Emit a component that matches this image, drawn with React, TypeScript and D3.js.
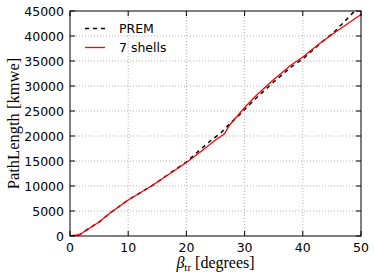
import React from "react";
import * as d3 from "d3";

const xTicks = [0, 10, 20, 30, 40, 50];
const yTicks = [0, 5000, 10000, 15000, 20000, 25000, 30000, 35000, 40000, 45000];

const shellsX = [0, 1, 1.7, 3, 5, 7, 10, 14, 20, 22.5, 25, 26.5, 27.5, 30, 32, 35, 38, 40, 43, 45, 48, 50];
const shellsY = [0, 150, 300, 1300, 2800, 4700, 7200, 10000, 14700, 16900, 19200, 20400, 22300, 25700, 28100, 31300, 34200, 35800, 38600, 40300, 42700, 44300];

const premX = [0, 1, 1.7, 3, 5, 7, 10, 14, 20, 22, 24, 26, 27.5, 29, 30, 32, 35, 38, 40, 43, 45, 46, 48, 50];
const premY = [0, 150, 300, 1300, 2800, 4700, 7200, 10000, 14800, 16900, 18900, 20700, 22500, 24100, 25300, 27600, 30800, 33800, 35400, 38500, 40400, 41500, 43900, 46300];

const W = 374, H = 278;
const m = { left: 70, right: 13, top: 11, bottom: 42 };

export default function App() {
  const x = d3.scaleLinear().domain([0, 50]).range([m.left, W - m.right]);
  const y = d3.scaleLinear().domain([0, 45000]).range([H - m.bottom, m.top]);
  const mk = (xs: number[], ys: number[]) =>
    d3.line<number>().x((_, i) => x(xs[i])).y((_, i) => y(ys[i]))(xs) || "";
  const tickFont = { fontFamily: "DejaVu Sans", fontSize: 12.5, fill: "#000" };
  const x0 = x(0), x1 = x(50), y0 = y(0), y1 = y(45000);
  return (
    <svg width={W} height={H} style={{ position: "absolute", left: 0, top: 0, background: "#fff" }}>
      <defs>
        <clipPath id="plotclip">
          <rect x={x0} y={y1} width={x1 - x0} height={y0 - y1} />
        </clipPath>
      </defs>
      {xTicks.slice(1, -1).map((t) => (
        <line key={"gx" + t} x1={x(t)} x2={x(t)} y1={y1} y2={y0} stroke="#b0b0b0" strokeWidth={1} strokeDasharray="1,2" />
      ))}
      {yTicks.slice(1, -1).map((t) => (
        <line key={"gy" + t} x1={x0} x2={x1} y1={y(t)} y2={y(t)} stroke="#b0b0b0" strokeWidth={1} strokeDasharray="1,2" />
      ))}
      <g clipPath="url(#plotclip)">
        <path d={mk(premX, premY)} fill="none" stroke="#000" strokeWidth={1.5} strokeDasharray="4,4" />
        <path d={mk(shellsX, shellsY)} fill="none" stroke="#ff0000" strokeWidth={1.3} />
      </g>
      {xTicks.map((t) => (
        <g key={"tx" + t}>
          <line x1={x(t)} x2={x(t)} y1={y0} y2={y0 - 5} stroke="#000" strokeWidth={1} />
          <line x1={x(t)} x2={x(t)} y1={y1} y2={y1 + 5} stroke="#000" strokeWidth={1} />
          <text x={x(t)} y={y0 + 15.5} textAnchor="middle" {...tickFont}>{t}</text>
        </g>
      ))}
      {yTicks.map((t) => (
        <g key={"ty" + t}>
          <line x1={x0} x2={x0 + 5} y1={y(t)} y2={y(t)} stroke="#000" strokeWidth={1} />
          <line x1={x1} x2={x1 - 5} y1={y(t)} y2={y(t)} stroke="#000" strokeWidth={1} />
          <text x={x0 - 6} y={y(t) + 4.5} textAnchor="end" {...tickFont}>{t}</text>
        </g>
      ))}
      <rect x={x0} y={y1} width={x1 - x0} height={y0 - y1} fill="none" stroke="#000" strokeWidth={1} />
      <line x1={85} x2={105} y1={28.5} y2={28.5} stroke="#000" strokeWidth={1.5} strokeDasharray="4,4" />
      <text x={119} y={33} {...tickFont}>PREM</text>
      <line x1={85} x2={105} y1={47.5} y2={47.5} stroke="#ff0000" strokeWidth={1.3} />
      <text x={119} y={52} {...tickFont}>7 shells</text>
      <text x={(x0 + x1) / 2} y={268} textAnchor="middle" fontFamily="Liberation Serif" fontSize={16}>
        <tspan fontStyle="italic">β</tspan>
        <tspan fontSize={11} dy={3}>tr</tspan>
        <tspan dy={-3}> [degrees]</tspan>
      </text>
      <text transform={`translate(19,${(y0 + y1) / 2}) rotate(-90)`} textAnchor="middle" fontFamily="Liberation Serif" fontSize={16.5}>
        PathLength [kmwe]
      </text>
    </svg>
  );
}
